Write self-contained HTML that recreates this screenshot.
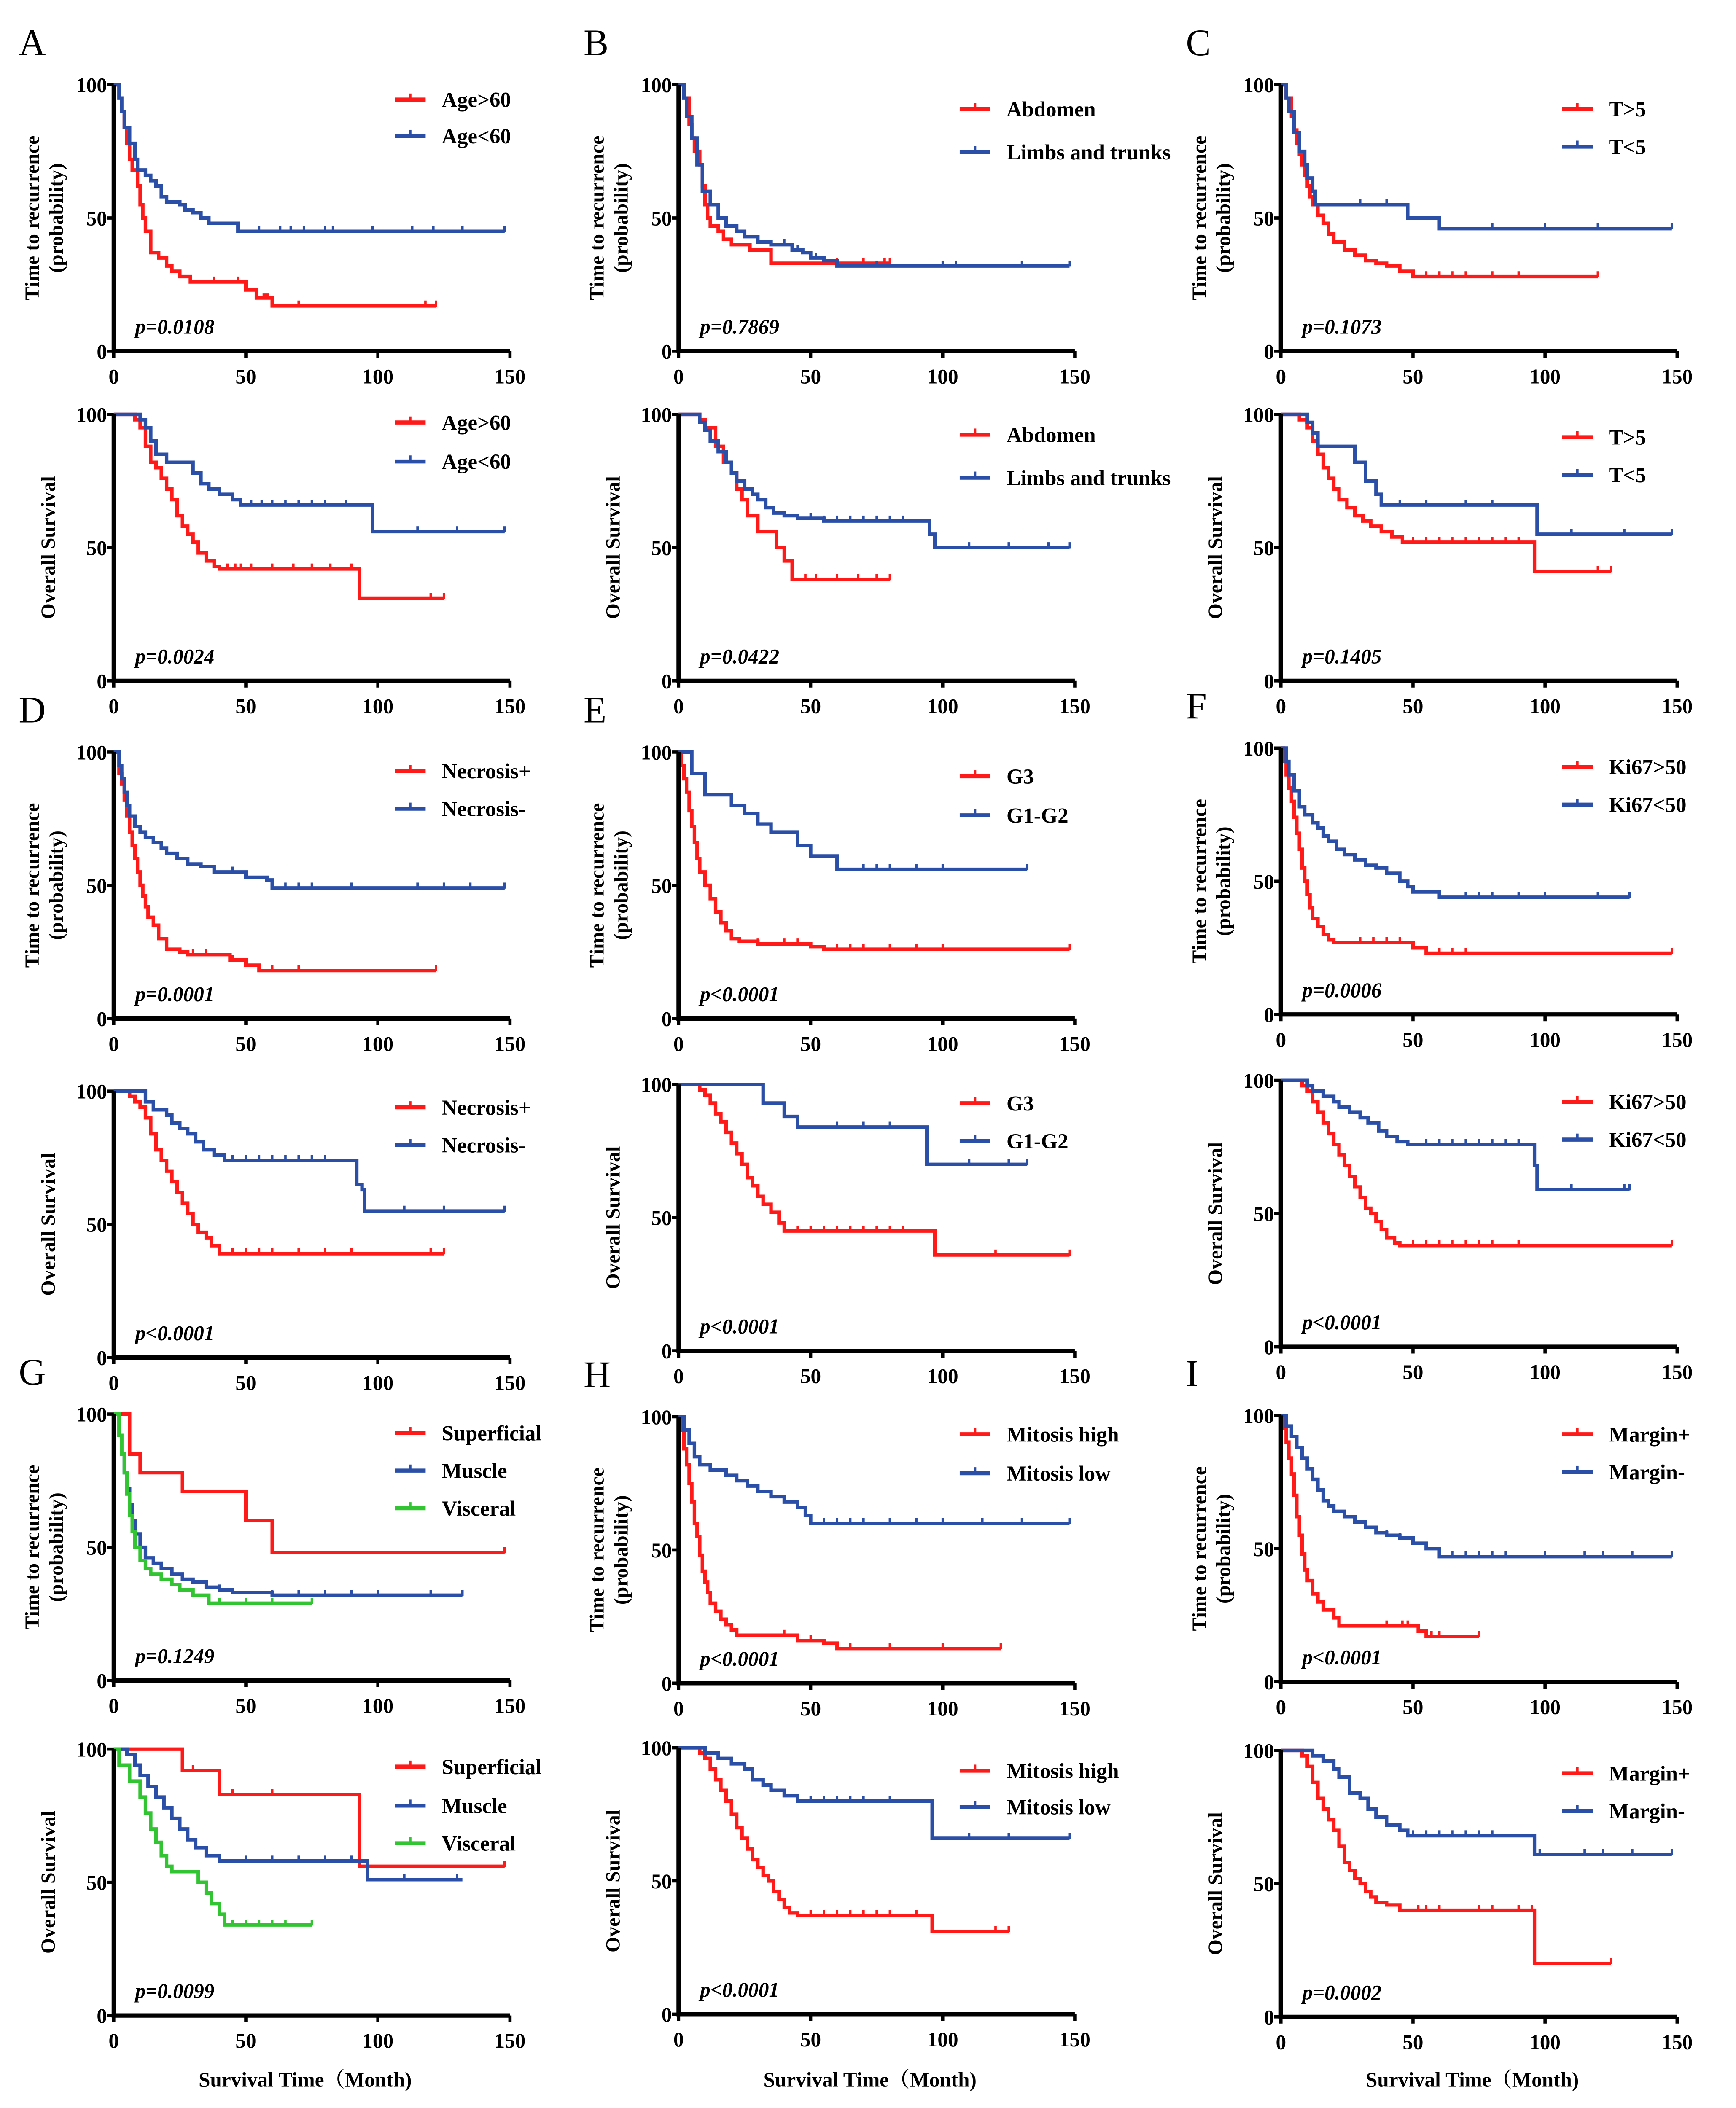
<!DOCTYPE html>
<html><head><meta charset="utf-8"><style>
html,body{margin:0;padding:0;background:#fff;overflow:hidden;width:4117px;height:5004px}
svg{display:block}
text{font-family:"Liberation Serif","Noto Serif CJK SC",serif;font-weight:bold;fill:#000}
</style></head><body>
<svg id="fig" width="4117" height="5004" viewBox="0 0 1297 1568" preserveAspectRatio="none" xmlns="http://www.w3.org/2000/svg"></svg>
<script>
const aTtrRed=[[0,100],[2,95],[3,90],[4,84],[5,78],[6,72],[7,68],[9,62],[10,55],[11,50],[12,45],[14,37],[17,35],[20,32],[22,30],[25,28],[29,26],[48,26],[50,23],[54,20],[57,21],[58,20],[60,17]];
const aTtrBlue=[[0,100],[2,95],[3,90],[4,84],[6,78],[8,72],[9,68],[12,66],[14,64],[16,62],[18,58],[20,56],[25,55],[27,53],[30,52],[33,50],[36,48],[47,45]];
const aOsRed=[[0,100],[8,98],[10,95],[12,88],[14,82],[16,80],[18,76],[20,72],[22,68],[24,62],[26,58],[28,55],[30,52],[32,48],[35,45],[38,43],[40,42],[93,31]];
const aOsBlue=[[0,100],[10,98],[12,95],[14,90],[16,85],[20,82],[30,78],[33,74],[36,72],[40,70],[45,68],[48,66],[98,56]];
const bTtrRed=[[0,100],[2,95],[4,85],[5,80],[6,75],[8,70],[9,62],[10,55],[11,50],[12,47],[15,45],[17,42],[20,40],[27,38],[35,33]];
const bTtrBlue=[[0,100],[2,95],[3,88],[5,80],[7,70],[9,60],[12,55],[15,50],[18,47],[22,45],[25,43],[30,41],[35,40],[43,38],[47,37],[50,35],[55,34],[60,32]];
const bOsRed=[[0,100],[8,98],[10,95],[14,88],[17,82],[20,78],[22,72],[24,68],[26,62],[30,56],[37,50],[40,45],[43,38]];
const bOsBlue=[[0,100],[8,97],[10,94],[12,90],[15,86],[18,82],[20,78],[22,75],[25,72],[28,70],[30,68],[33,65],[36,63],[40,62],[45,61],[55,60],[95,55],[97,50]];
const cTtrRed=[[0,100],[2,95],[4,88],[5,83],[6,78],[7,74],[8,70],[9,66],[10,62],[11,58],[12,55],[14,51],[16,48],[18,44],[20,41],[24,38],[28,36],[32,34],[36,33],[40,32],[45,30],[50,28]];
const cTtrBlue=[[0,100],[2,95],[3,90],[5,82],[7,75],[9,70],[10,65],[12,60],[13,55],[48,50],[60,46]];
const cOsRed=[[0,100],[7,98],[10,95],[12,90],[14,85],[16,80],[18,76],[20,72],[22,68],[25,65],[28,62],[31,60],[34,58],[38,56],[42,54],[46,52],[96,41]];
const cOsBlue=[[0,100],[10,97],[12,93],[14,88],[28,82],[32,75],[36,70],[38,66],[97,55]];
const dTtrRed=[[0,100],[2,92],[3,88],[4,82],[5,76],[6,70],[7,65],[8,60],[9,55],[10,50],[11,46],[12,42],[13,38],[15,35],[17,30],[20,26],[25,25],[28,24],[44,22],[50,20],[55,18]];
const dTtrBlue=[[0,100],[2,95],[3,90],[4,85],[5,80],[6,76],[8,72],[10,70],[12,68],[15,66],[18,64],[20,62],[24,60],[28,58],[33,57],[38,55],[50,53],[58,52],[60,49]];
const dOsRed=[[0,100],[6,98],[8,96],[10,94],[12,90],[14,84],[16,78],[18,74],[20,70],[22,66],[24,62],[26,58],[28,54],[30,50],[32,47],[35,45],[37,42],[40,39]];
const dOsBlue=[[0,100],[12,96],[15,93],[20,91],[22,88],[25,86],[28,84],[31,81],[34,78],[38,76],[42,74],[92,65],[94,63],[95,55]];
const eTtrRed=[[0,100],[1,95],[2,90],[3,85],[4,78],[5,72],[6,66],[7,60],[8,55],[10,50],[12,45],[14,40],[16,36],[18,33],[20,30],[23,29],[30,28],[50,27],[55,26]];
const eTtrBlue=[[0,100],[5,92],[10,84],[20,80],[25,77],[30,73],[35,70],[45,65],[50,61],[60,56]];
const eOsRed=[[0,100],[8,98],[10,96],[12,93],[14,89],[16,86],[18,82],[20,78],[22,74],[24,70],[26,65],[28,62],[30,58],[32,55],[35,52],[38,48],[40,45],[97,36]];
const eOsBlue=[[0,100],[32,93],[40,88],[45,84],[94,70]];
const fTtrRed=[[0,100],[1,95],[2,90],[3,85],[4,80],[5,74],[6,68],[7,62],[8,55],[9,50],[10,45],[11,40],[12,36],[14,33],[16,30],[18,28],[20,27],[50,25],[55,23]];
const fTtrBlue=[[0,100],[2,95],[3,90],[5,84],[7,78],[9,75],[12,72],[14,70],[16,67],[18,65],[21,62],[24,60],[28,58],[32,56],[36,55],[40,53],[45,50],[48,48],[50,46],[60,44]];
const fOsRed=[[0,100],[8,98],[10,96],[12,92],[14,88],[16,84],[18,80],[20,76],[22,72],[24,68],[26,64],[28,60],[30,56],[32,52],[34,50],[36,47],[38,44],[40,41],[43,39],[45,38]];
const fOsBlue=[[0,100],[10,98],[12,96],[16,94],[20,92],[22,90],[26,88],[30,86],[33,84],[37,81],[40,79],[44,77],[48,76],[96,68],[97,59]];
const gTtrRed=[[0,100],[6,85],[10,78],[26,71],[50,60],[60,48]];
const gTtrBlue=[[0,100],[2,92],[3,85],[4,78],[5,72],[6,66],[7,60],[8,55],[10,50],[12,46],[15,44],[18,42],[22,40],[26,38],[30,37],[35,35],[40,34],[45,33],[60,32]];
const gTtrGreen=[[0,100],[2,92],[3,85],[4,78],[5,70],[6,62],[7,56],[8,50],[10,45],[12,42],[14,40],[18,38],[22,36],[25,34],[30,32],[36,29]];
const gOsRed=[[0,100],[26,92],[40,83],[93,56]];
const gOsBlue=[[0,100],[5,98],[8,94],[10,90],[13,86],[16,82],[19,78],[22,74],[25,70],[28,66],[31,63],[35,60],[40,58],[96,51]];
const gOsGreen=[[0,100],[2,94],[6,88],[10,82],[12,76],[14,70],[16,65],[18,60],[20,56],[22,54],[32,50],[35,46],[37,42],[40,38],[42,34]];
const hTtrRed=[[0,100],[1,95],[2,88],[3,82],[4,75],[5,68],[6,60],[7,55],[8,48],[9,42],[10,38],[11,34],[12,30],[14,27],[16,24],[18,22],[20,20],[22,18],[45,16],[55,15],[60,13]];
const hTtrBlue=[[0,100],[2,95],[4,90],[6,85],[8,82],[12,80],[18,78],[22,76],[26,74],[30,72],[35,70],[40,68],[45,66],[48,63],[50,60]];
const hOsRed=[[0,100],[8,98],[10,96],[12,92],[14,88],[16,84],[18,80],[20,75],[22,70],[24,66],[26,62],[28,58],[30,55],[32,52],[34,50],[36,46],[38,43],[40,40],[42,38],[45,37],[96,31]];
const hOsBlue=[[0,100],[10,98],[15,96],[20,94],[25,92],[28,88],[32,86],[35,84],[40,82],[45,80],[96,66]];
const iTtrRed=[[0,100],[1,95],[2,90],[3,84],[4,78],[5,70],[6,62],[7,55],[8,48],[9,42],[10,38],[12,33],[14,30],[16,27],[20,24],[22,21],[52,19],[55,17]];
const iTtrBlue=[[0,100],[2,96],[4,92],[6,88],[8,84],[10,80],[12,76],[14,72],[16,68],[18,66],[20,64],[24,62],[28,60],[32,58],[36,56],[40,55],[45,54],[50,52],[55,50],[60,47]];
const iOsRed=[[0,100],[8,98],[10,94],[12,88],[14,82],[16,78],[18,74],[20,70],[22,64],[24,58],[26,55],[28,52],[30,50],[32,47],[34,45],[36,43],[40,42],[45,40],[96,20]];
const iOsBlue=[[0,100],[12,98],[16,96],[20,93],[22,90],[26,84],[30,82],[33,78],[36,75],[40,72],[45,70],[48,68],[96,61]];
const yTicks=[0,50,100];
const xTicks=[0,50,100,150];

const RED='#ff1a1a',BLUE='#2b4fa6',GREEN='#33c433';
const NS='http://www.w3.org/2000/svg';
const svg=document.getElementById('fig');
function el(tag,attrs,parent){const e=document.createElementNS(NS,tag);for(const k in attrs)e.setAttribute(k,attrs[k]);(parent||svg).appendChild(e);return e;}

const W=296,H=198;
const panels=[
 ['A',85,63,'ttr','p=0.0108',[11,38],[[aTtrRed,122,[38,47,70,118,122],RED,'Age>60'],[aTtrBlue,148,[55,63,67,72,80,83,98,113,121,132,148],BLUE,'Age<60']]],
 ['',85,308,'os','p=0.0024',[6,35],[[aOsRed,125,[43,46,48,52,60,68,75,82,90,120,125],RED,'Age>60'],[aOsBlue,148,[52,56,60,65,70,75,80,88,115,130,148],BLUE,'Age<60']]],
 ['B',507,63,'ttr','p=0.7869',[18,50],[[bTtrRed,80,[60,70,78,80],RED,'Abdomen'],[bTtrBlue,148,[40,45,50,52,75,100,105,130,148],BLUE,'Limbs and trunks']]],
 ['',507,308,'os','p=0.0422',[15,47],[[bOsRed,80,[48,52,60,68,75,80],RED,'Abdomen'],[bOsBlue,148,[50,55,60,65,70,75,80,85,110,125,140,148],BLUE,'Limbs and trunks']]],
 ['C',957,63,'ttr','p=0.1073',[18,46],[[cTtrRed,120,[55,60,65,70,80,90,120],RED,'T>5'],[cTtrBlue,148,[30,40,80,100,120,148],BLUE,'T<5']]],
 ['',957,308,'os','p=0.1405',[17,45],[[cOsRed,125,[50,55,60,65,70,75,80,85,90,120,125],RED,'T>5'],[cOsBlue,148,[45,55,70,80,110,130,148],BLUE,'T<5']]],
 ['D',85,559,'ttr','p=0.0001',[14,42],[[dTtrRed,122,[30,35,45,60,70,122],RED,'Necrosis+'],[dTtrBlue,148,[45,65,70,75,90,115,125,135,148],BLUE,'Necrosis-']]],
 ['',85,811,'os','p<0.0001',[12,40],[[dOsRed,125,[45,50,55,60,70,80,90,120,125],RED,'Necrosis+'],[dOsBlue,148,[45,50,55,60,65,70,75,80,110,125,148],BLUE,'Necrosis-']]],
 ['E',507,559,'ttr','p<0.0001',[18,47],[[eTtrRed,148,[30,40,45,60,65,70,80,90,100,148],RED,'G3'],[eTtrBlue,132,[70,75,80,90,100,132],BLUE,'G1-G2']]],
 ['',507,806,'os','p<0.0001',[14,42],[[eOsRed,148,[45,50,55,60,65,70,75,80,85,120,148],RED,'G3'],[eOsBlue,132,[60,70,80,110,125,132],BLUE,'G1-G2']]],
 ['F',957,556,'ttr','p=0.0006',[14,42],[[fTtrRed,148,[30,35,40,45,60,65,70,148],RED,'Ki67>50'],[fTtrBlue,132,[70,75,80,90,100,120,132],BLUE,'Ki67<50']]],
 ['',957,803,'os','p<0.0001',[16,44],[[fOsRed,148,[50,55,60,65,70,75,80,90,148],RED,'Ki67>50'],[fOsBlue,132,[55,60,65,70,75,80,85,90,110,130,132],BLUE,'Ki67<50']]],
 ['G',85,1051,'ttr','p=0.1249',[14,42,70],[[gTtrRed,148,[148],RED,'Superficial'],[gTtrBlue,132,[40,60,70,80,90,100,120,132],BLUE,'Muscle'],[gTtrGreen,75,[40,50,60,75],GREEN,'Visceral']]],
 ['',85,1300,'os','p=0.0099',[13,42,70],[[gOsRed,148,[30,45,60,148],RED,'Superficial'],[gOsBlue,132,[50,60,70,80,90,110,130],BLUE,'Muscle'],[gOsGreen,75,[45,50,55,60,65,75],GREEN,'Visceral']]],
 ['H',507,1053,'ttr','p<0.0001',[13,42],[[hTtrRed,122,[40,45,50,65,80,100,122],RED,'Mitosis high'],[hTtrBlue,148,[55,60,65,70,80,90,100,115,130,148],BLUE,'Mitosis low']]],
 ['',507,1299,'os','p<0.0001',[17,44],[[hOsRed,125,[50,55,60,65,70,75,80,90,120,125],RED,'Mitosis high'],[hOsBlue,148,[45,50,55,60,65,70,80,110,125,148],BLUE,'Mitosis low']]],
 ['I',957,1052,'ttr','p<0.0001',[14,42],[[iTtrRed,75,[40,46,48,57,60,75],RED,'Margin+'],[iTtrBlue,148,[40,45,65,70,75,80,85,100,115,122,133,148],BLUE,'Margin-']]],
 ['',957,1301,'os','p=0.0002',[17,45],[[iOsRed,125,[52,55,60,75,80,90,95,125],RED,'Margin+'],[iOsBlue,148,[50,55,60,65,70,75,80,98,115,122,133,148],BLUE,'Margin-']]]
];

panels.forEach((P,pi)=>{
  const [letter,ox,oy,kind,pv,legDy,curves]=P;
  const g=el('g',{});
  
  
  const sx=t=>ox+t/150*W, sy=s=>oy+(100-s)/100*H;
  if(letter){
    const L=el('text',{x:ox-71,y:oy-22,'font-size':28,style:'font-weight:normal'},g);
    L.textContent=letter;
    
    
  }
  curves.forEach((c,ci)=>{
    const [d,end,cens,col,lab]=c;
    let pts=[];let prev=null;
    d.forEach(([t,s])=>{if(prev!==null)pts.push(sx(t)+','+sy(prev));pts.push(sx(t)+','+sy(s));prev=s;});
    pts.push(sx(end)+','+sy(prev));
    const pl=el('polyline',{points:pts.join(' '),fill:'none',stroke:col,'stroke-width':2.6},g);
    
    
    const survAt=t=>{let v=100;d.forEach(([tt,s])=>{if(tt<=t)v=s;});return v;};
    cens.forEach(t=>{
      const y=sy(survAt(t));
      const tk=el('line',{x1:sx(t),x2:sx(t),y1:y-4,y2:y+0.5,stroke:col,'stroke-width':1.8},g);
      
      
    });
    const ly=oy+legDy[ci];
    const lx=ox+210;
    const ll=el('line',{x1:lx,x2:lx+23,y1:ly,y2:ly,stroke:col,'stroke-width':3},g);
    
    
    el('line',{x1:lx+11.5,x2:lx+11.5,y1:ly-4.5,y2:ly,stroke:col,'stroke-width':1.8},g);
    const lt=el('text',{x:lx+35,y:ly+5.5,'font-size':16},g);
    lt.textContent=lab;
    
    
  });
  const ax=el('path',{d:`M${ox},${oy} V${oy+H} H${ox+W}`,fill:'none',stroke:'#000','stroke-width':3.2},g);
  
  
  yTicks.forEach(v=>{
    el('line',{x1:ox-5,x2:ox,y1:sy(v),y2:sy(v),stroke:'#000','stroke-width':2.4},g);
    const t=el('text',{x:ox-5,y:sy(v)+5.5,'font-size':15.5,'text-anchor':'end'},g);
    t.textContent=v;
    
    
  });
  xTicks.forEach(v=>{
    el('line',{x1:sx(v),x2:sx(v),y1:oy+H,y2:oy+H+5,stroke:'#000','stroke-width':2.4},g);
    const t=el('text',{x:sx(v),y:oy+H+24,'font-size':15.5,'text-anchor':'middle'},g);
    t.textContent=v;
    
    
  });
  const p=el('text',{x:ox+16,y:oy+185,'font-size':15.5,'font-style':'italic'},g);
  p.textContent=pv;
  
  
  const cy=oy+H/2;
  if(kind==='ttr'){
    const t1=el('text',{x:0,y:0,'font-size':15,'text-anchor':'middle',transform:`translate(${ox-56},${cy}) rotate(-90)`},g);
    t1.textContent='Time to recurrence';
    
    
    const t2=el('text',{x:0,y:0,'font-size':15,'text-anchor':'middle',transform:`translate(${ox-38},${cy}) rotate(-90)`},g);
    t2.textContent='(probability)';
    
    
  } else {
    const t1=el('text',{x:0,y:0,'font-size':15,'text-anchor':'middle',transform:`translate(${ox-44},${cy}) rotate(-90)`},g);
    t1.textContent='Overall Survival';
    
    
  }
});
[85,507,957].forEach(ox=>{
  const t=el('text',{x:ox+143,y:1551,'font-size':15.5,'text-anchor':'middle'});
  t.textContent='Survival Time（Month)';
  
  
});
</script>
</body></html>
